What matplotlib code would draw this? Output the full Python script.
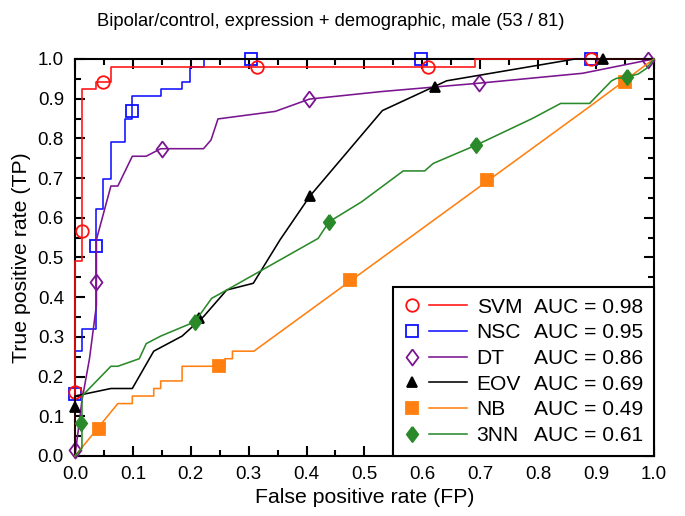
import matplotlib
matplotlib.use("Agg")
import matplotlib.pyplot as plt
from matplotlib.lines import Line2D
from matplotlib.legend_handler import HandlerBase
from matplotlib.ticker import MultipleLocator

plt.rcParams['font.family'] = ['Liberation Sans', 'DejaVu Sans']

# ROC curves (false positive rate, true positive rate)
svm_fpr = [0, 0, 0.012, 0.012, 0.037, 0.037, 0.062, 0.062, 0.691, 0.691, 1.0]
svm_tpr = [0, 0.49, 0.49, 0.925, 0.925, 0.943, 0.943, 0.981, 0.981, 1.0, 1.0]
svm_mk_fpr = [0, 0.012, 0.048, 0.315, 0.61, 0.891]
svm_mk_tpr = [0.16, 0.567, 0.943, 0.981, 0.981, 1.0]

nsc_fpr = [0, 0, 0.012, 0.012, 0.037, 0.037, 0.049, 0.049, 0.062, 0.062, 0.086, 0.086,
           0.099, 0.099, 0.148, 0.148, 0.185, 0.185, 0.198, 0.198, 0.222, 0.222, 1.0]
nsc_tpr = [0, 0.264, 0.264, 0.32, 0.32, 0.622, 0.622, 0.698, 0.698, 0.792, 0.792, 0.849,
           0.849, 0.906, 0.906, 0.925, 0.925, 0.943, 0.943, 0.981, 0.981, 1.0, 1.0]
nsc_mk_fpr = [0, 0.037, 0.099, 0.304, 0.598, 0.891]
nsc_mk_tpr = [0.156, 0.53, 0.868, 1.0, 1.0, 1.0]

dt_fpr = [0, 0.012, 0.025, 0.037, 0.037, 0.062, 0.074, 0.099, 0.123, 0.148, 0.222,
          0.235, 0.247, 0.346, 0.405, 0.53, 0.698, 0.877, 1.0]
dt_tpr = [0, 0.14, 0.245, 0.38, 0.545, 0.68, 0.68, 0.755, 0.755, 0.774, 0.774,
          0.796, 0.849, 0.868, 0.899, 0.918, 0.939, 0.964, 1.0]
dt_mk_fpr = [0, 0.036, 0.151, 0.405, 0.698, 0.99]
dt_mk_tpr = [0.015, 0.438, 0.774, 0.899, 0.939, 0.997]

eov_fpr = [0, 0, 0.062, 0.099, 0.136, 0.185, 0.222, 0.262, 0.308, 0.354, 0.406,
           0.531, 0.642, 0.864, 1.0]
eov_tpr = [0, 0.151, 0.17, 0.17, 0.264, 0.302, 0.351, 0.418, 0.435, 0.544, 0.655,
           0.87, 0.945, 1.0, 1.0]
eov_mk_fpr = [0, 0.214, 0.406, 0.622, 0.912]
eov_mk_tpr = [0.124, 0.348, 0.655, 0.93, 1.0]

nb_fpr = [0, 0.074, 0.099, 0.099, 0.136, 0.136, 0.148, 0.148, 0.185, 0.185, 0.259,
          0.259, 0.272, 0.272, 0.309, 0.889, 1.0]
nb_tpr = [0, 0.132, 0.132, 0.151, 0.151, 0.17, 0.17, 0.189, 0.189, 0.226, 0.226,
          0.245, 0.245, 0.264, 0.264, 0.88, 1.0]
nb_mk_fpr = [0.042, 0.249, 0.475, 0.712, 0.95]
nb_mk_tpr = [0.067, 0.226, 0.443, 0.695, 0.943]

knn_fpr = [0, 0.012, 0.012, 0.062, 0.074, 0.111, 0.123, 0.148, 0.207, 0.236, 0.262,
           0.42, 0.439, 0.495, 0.567, 0.604, 0.619, 0.693, 0.79, 0.839, 0.889,
           0.927, 0.935, 0.953, 0.973, 0.987, 1.0]
knn_tpr = [0, 0.02, 0.151, 0.226, 0.226, 0.245, 0.283, 0.302, 0.338, 0.397, 0.418,
           0.548, 0.59, 0.64, 0.718, 0.718, 0.737, 0.783, 0.85, 0.888, 0.888,
           0.945, 0.951, 0.955, 0.962, 0.976, 1.0]
knn_mk_fpr = [0.01, 0.207, 0.439, 0.693, 0.953]
knn_mk_tpr = [0.082, 0.338, 0.59, 0.783, 0.955]

names = ['SVM', 'NSC', 'DT', 'EOV', 'NB', '3NN']
aucs = [0.98, 0.95, 0.86, 0.69, 0.49, 0.61]

# thin diamond like the original
diamond = [(0, 1), (0.75, 0), (0, -1), (-0.75, 0), (0, 1)]


class MarkerThenLine(HandlerBase):
    def create_artists(self, legend, orig, xdescent, ydescent, width, height,
                       fontsize, trans):
        y = height / 2 - ydescent
        mk = Line2D([width * 0.13 - xdescent], [y], ls='none',
                    marker=orig.get_marker(), markersize=orig.get_markersize(),
                    markerfacecolor=orig.get_markerfacecolor(),
                    markeredgecolor=orig.get_markeredgecolor(),
                    markeredgewidth=orig.get_markeredgewidth(), transform=trans)
        ln = Line2D([width * 0.4 - xdescent, width - xdescent], [y, y],
                    color=orig.get_color(), lw=orig.get_linewidth(), transform=trans)
        return [mk, ln]


fig = plt.figure(figsize=(6.85, 5.16), dpi=100)
ax = fig.add_axes([0.1095, 0.1163, 0.845, 0.7694])

series = [
    ('SVM', svm_fpr, svm_tpr, svm_mk_fpr, svm_mk_tpr, '#ff1010', 'o', 9, 'none', 3),
    ('NSC', nsc_fpr, nsc_tpr, nsc_mk_fpr, nsc_mk_tpr, '#1010ff', 's', 9, 'none', 2),
    ('DT', dt_fpr, dt_tpr, dt_mk_fpr, dt_mk_tpr, '#7a1490', diamond, 11.5, 'none', 4),
    ('EOV', eov_fpr, eov_tpr, eov_mk_fpr, eov_mk_tpr, '#000000', '^', 7.5, 'fill', 5),
    ('NB', nb_fpr, nb_tpr, nb_mk_fpr, nb_mk_tpr, '#ff8010', 's', 8, 'fill', 6),
    ('3NN', knn_fpr, knn_tpr, knn_mk_fpr, knn_mk_tpr, '#2a8a2a', diamond, 11, 'fill', 7),
]

handles = {}
for name, fx, fy, mx, my, col, mk, ms, fill, z in series:
    ax.plot(fx, fy, color=col, lw=1.15, zorder=z, clip_on=False)
    mfc = col if fill == 'fill' else 'none'
    ax.plot(mx, my, ls='none', marker=mk, markersize=ms, markerfacecolor=mfc,
            markeredgecolor=col, markeredgewidth=1.3, zorder=z + 0.5, clip_on=False)
    handles[name] = Line2D([], [], color=col, lw=1.15, marker=mk, markersize=ms,
                           markerfacecolor=mfc, markeredgecolor=col,
                           markeredgewidth=1.3)

ax.set_xlim(0, 1)
ax.set_ylim(0, 1)
ax.xaxis.set_major_locator(MultipleLocator(0.1))
ax.yaxis.set_major_locator(MultipleLocator(0.1))
ax.xaxis.set_minor_locator(MultipleLocator(0.05))
ax.yaxis.set_minor_locator(MultipleLocator(0.05))
ax.tick_params(which='both', direction='in', top=True, right=True, width=1.5)
ax.tick_params(which='major', length=7, labelsize=13.5)
ax.tick_params(axis='y', which='major', pad=8)
ax.tick_params(axis='x', which='major', pad=7)
ax.tick_params(which='minor', length=4)
ax.xaxis.set_major_formatter(plt.FuncFormatter(lambda v, p: f'{v:.1f}'))
ax.yaxis.set_major_formatter(plt.FuncFormatter(lambda v, p: f'{v:.1f}'))
for s in ax.spines.values():
    s.set_linewidth(1.5)

ax.set_xlabel('False positive rate (FP)', fontsize=15.3, labelpad=4)
ax.set_ylabel('True positive rate (TP)', fontsize=15.3, labelpad=5)
fig.text(331 / 685, 1 - 22 / 516,
         'Bipolar/control, expression + demographic, male (53 / 81)',
         fontsize=13.2, ha='center', va='center')

# two legend columns: names with handles, then the AUC values
blank = [Line2D([], [], ls='none') for _ in names]
leg_handles = [handles[n] for n in names] + blank
leg_labels = names + [f'AUC = {a:.2f}' for a in aucs]
hmap = {handles[n]: MarkerThenLine() for n in names}
leg = ax.legend(leg_handles, leg_labels, ncol=2, loc='lower right',
                borderaxespad=0, fontsize=15.1, handlelength=3.0,
                handletextpad=0.45, columnspacing=-2.9, labelspacing=0.32,
                borderpad=0.52, fancybox=False, framealpha=1,
                edgecolor='black', handler_map=hmap)
leg.get_frame().set_linewidth(1.5)
leg.set_zorder(10)

fig.savefig('out.png', dpi=100)
